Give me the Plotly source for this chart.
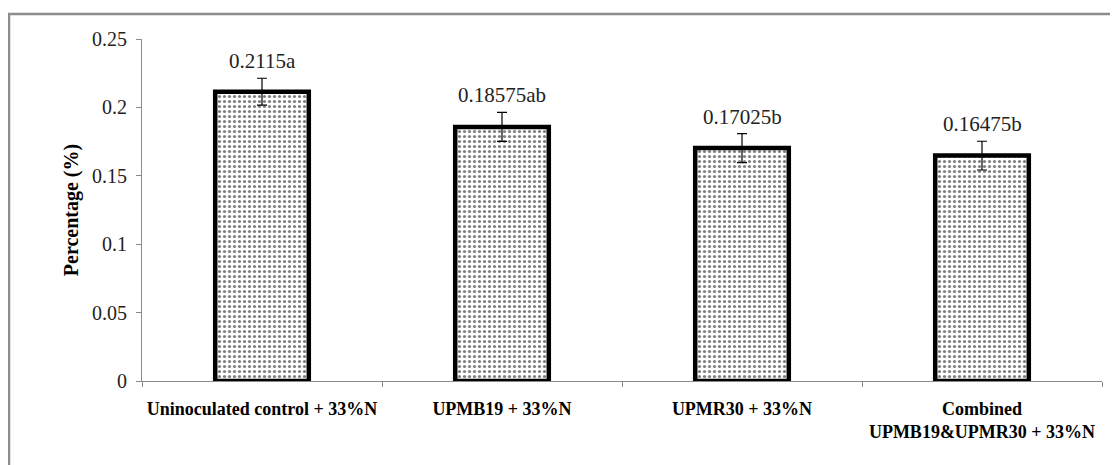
import plotly.graph_objects as go

categories = ["Uninoculated control + 33%N", "UPMB19 + 33%N", "UPMR30 + 33%N",
              "Combined<br>UPMB19&UPMR30 + 33%N"]
values = [0.2115, 0.18575, 0.17025, 0.16475]
errors = [0.0098, 0.0106, 0.0106, 0.0105]
labels = ["0.2115a", "0.18575ab", "0.17025b", "0.16475b"]
y_ticks = [0, 0.05, 0.1, 0.15, 0.2, 0.25]
y_tick_text = ["0", "0.05", "0.1", "0.15", "0.2", "0.25"]

SERIF = "Liberation Serif, Times New Roman, serif"
AXIS_GRAY = "#8a8a8a"

fig = go.Figure()
fig.add_trace(go.Bar(
    x=categories, y=values, width=0.39,
    marker=dict(
        color="white",
        line=dict(color="black", width=4.5),
        pattern=dict(shape=".", fgcolor="black", bgcolor="white", size=5, solidity=0.32),
    ),
    error_y=dict(type="data", array=errors, visible=True, color="black", thickness=1.2, width=5),
    showlegend=False,
))

for c, v, e, t in zip(categories, values, errors, labels):
    fig.add_annotation(x=c, y=v + e, text=t, showarrow=False, yanchor="bottom", yshift=3,
                       font=dict(family=SERIF, size=21, color="#222"))

# page has an 8px body margin; figure is sized to the visible area
W, H = 1110, 457
L, R, T, B = 134, 16, 31, 84
pw, ph = W - L - R, H - T - B
fx0 = (1 - L) / pw
fy0 = (H - 6 - B) / ph
fx1 = (W - L) / pw
fyb = -B / ph
fig.add_shape(type="line", xref="paper", yref="paper", x0=fx0 - 0.002, x1=fx1, y0=fy0, y1=fy0,
              line=dict(color="#8c8c8c", width=2.5))
fig.add_shape(type="line", xref="paper", yref="paper", x0=fx0, x1=fx0, y0=fyb, y1=fy0,
              line=dict(color="#8c8c8c", width=2.5))

fig.update_layout(
    width=W, height=H,
    margin=dict(l=L, r=R, t=T, b=B, autoexpand=False),
    plot_bgcolor="white", paper_bgcolor="white",
    xaxis=dict(
        type="category", showline=True, linecolor=AXIS_GRAY, linewidth=1,
        ticks="outside", tickson="boundaries", ticklen=5, tickcolor=AXIS_GRAY,
        ticklabelstandoff=11,
        tickfont=dict(family=SERIF, size=18, color="black", weight="bold"),
        showgrid=False, automargin=False,
    ),
    yaxis=dict(
        range=[0, 0.25], tickvals=y_ticks, ticktext=y_tick_text,
        showline=True, linecolor=AXIS_GRAY, linewidth=1,
        ticks="outside", ticklen=5, tickcolor=AXIS_GRAY,
        ticklabelstandoff=5,
        tickfont=dict(family=SERIF, size=20, color="#222"),
        showgrid=False, zeroline=False, automargin=False,
        title=dict(text="Percentage (%)", font=dict(family=SERIF, size=20, color="black", weight="bold"),
                   standoff=8),
    ),
)

fig.write_html("out.html")
